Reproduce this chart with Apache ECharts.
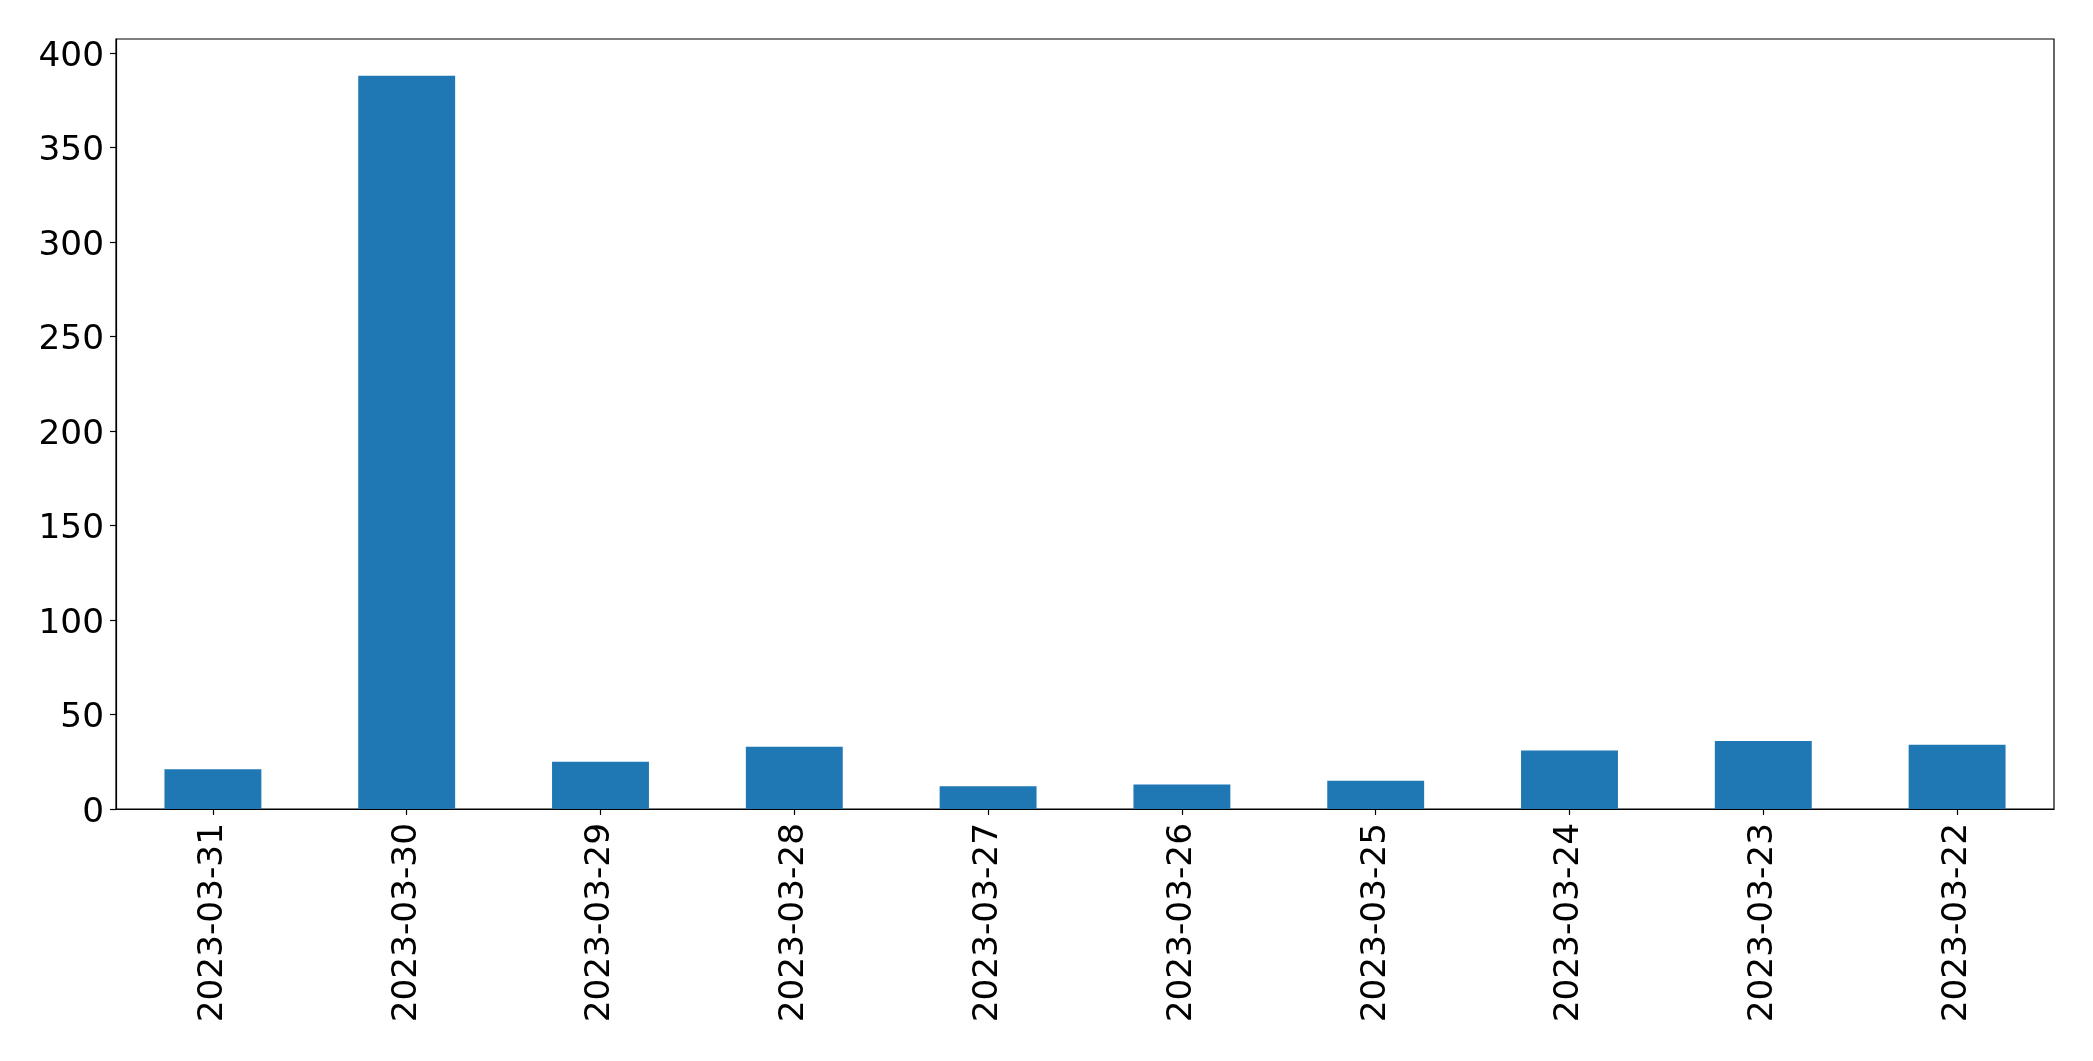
<!DOCTYPE html>
<html>
<head>
<meta charset="utf-8">
<script src="https://cdn.jsdelivr.net/npm/echarts@6/dist/echarts.min.js"></script>
<style>
html,body{margin:0;padding:0;background:#fff;}
#chart{width:2093px;height:1061px;}
</style>
</head>
<body>
<div id="chart"></div>
<script>
const categories = ['2023-03-31','2023-03-30','2023-03-29','2023-03-28','2023-03-27','2023-03-26','2023-03-25','2023-03-24','2023-03-23','2023-03-22'];
const values = [21, 388, 25, 33, 12, 13, 15, 31, 36, 34];
const yTicks = [0, 50, 100, 150, 200, 250, 300, 350, 400];

const chart = echarts.init(document.getElementById('chart'), null, {renderer: 'canvas'});
const font = 'DejaVu Sans';
chart.setOption({
  animation: false,
  backgroundColor: '#ffffff',
  grid: {
    left: 116, right: 39, top: 39, bottom: 252,
    show: true, borderColor: '#000', borderWidth: 1.2, backgroundColor: 'transparent'
  },
  xAxis: {
    type: 'category',
    data: categories,
    axisLine: {show: true, lineStyle: {color: '#000', width: 1.2}},
    axisTick: {show: true, alignWithLabel: true, length: 6, lineStyle: {color: '#000', width: 1.2}},
    axisLabel: {rotate: 90, margin: 14, color: '#000', fontFamily: font, fontSize: 34.3, interval: 0},
    splitLine: {show: false}
  },
  yAxis: {
    type: 'value',
    min: 0,
    max: 407.4,
    interval: 50,
    axisLine: {show: true, lineStyle: {color: '#000', width: 1.2}},
    axisTick: {show: true, length: 6, customValues: yTicks, lineStyle: {color: '#000', width: 1.2}},
    axisLabel: {
      margin: 12, color: '#000', fontFamily: font, fontSize: 34.3, customValues: yTicks,
      formatter: function (v) { return '{a|' + v + '}'; },
      rich: {a: {color: '#000', fontFamily: font, fontSize: 34.3, padding: [8, 0, 0, 0]}}
    },
    splitLine: {show: false}
  },
  series: [{
    type: 'bar',
    data: values,
    barWidth: '50%',
    itemStyle: {color: '#1f77b4'}
  }]
});
</script>
</body>
</html>
